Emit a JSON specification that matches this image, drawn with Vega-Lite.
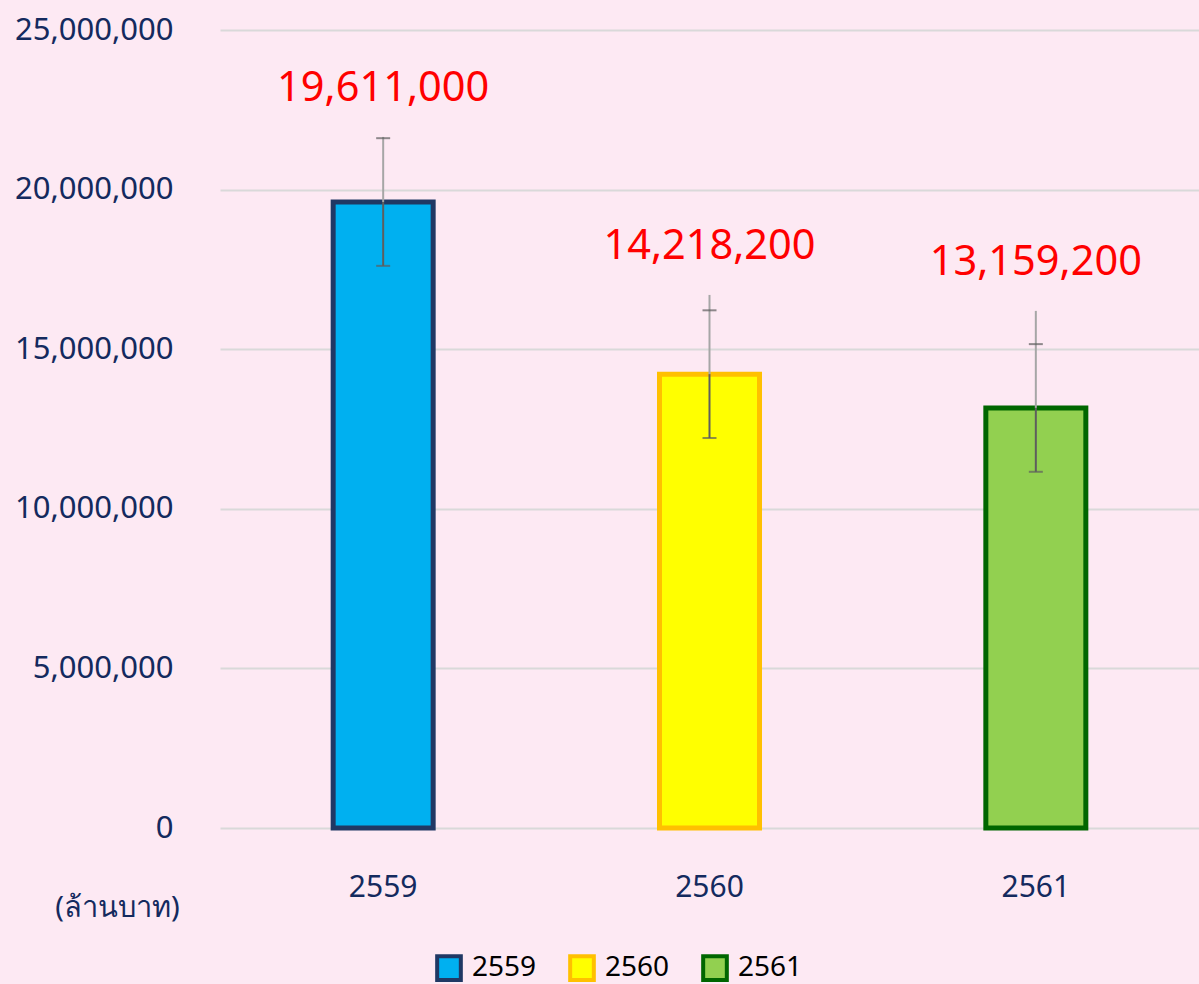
{
  "$schema": "https://vega.github.io/schema/vega-lite/v6.json",
  "width": 979,
  "height": 798,
  "autosize": {"type": "none"},
  "padding": {"left": 220, "top": 30, "right": 0, "bottom": 156},
  "background": "#FDE9F3",
  "config": {
    "view": {"stroke": null},
    "font": "Noto Sans",
    "axis": {"labelFont": "Noto Sans", "titleFont": "Noto Sans"}
  },
  "data": {
    "values": [
      {"year": "2559", "value": 19611000, "low": 17611000, "high": 21611000, "top": 21650000},
      {"year": "2560", "value": 14218200, "low": 12218200, "high": 16218200, "top": 16700000},
      {"year": "2561", "value": 13159200, "low": 11159200, "high": 15159200, "top": 16200000}
    ]
  },
  "encoding": {
    "x": {
      "field": "year", "type": "nominal",
      "scale": {"paddingInner": 0.68, "paddingOuter": 0.34},
      "axis": {"title": null, "labelAngle": 0, "domain": false, "ticks": false, "labelFontSize": 30, "labelColor": "#142A5E", "labelPadding": 44, "grid": false}
    }
  },
  "layer": [
    {
      "mark": {"type": "bar", "strokeWidth": 5, "width": 100},
      "encoding": {
        "y": {
          "field": "value", "type": "quantitative",
          "scale": {"domain": [0, 25000000], "nice": false},
          "axis": {
            "values": [0, 5000000, 10000000, 15000000, 20000000, 25000000],
            "format": ",d",
            "domain": false, "ticks": false,
            "labelFontSize": 31, "labelColor": "#142A5E", "labelPadding": 47,
            "gridColor": "#D9D9D9", "gridWidth": 2,
            "title": "(ล้านบาท)", "titleAngle": 0, "titleX": -103, "titleY": 877,
            "titleAlign": "center", "titleBaseline": "middle", "titleFontSize": 29,
            "titleFontWeight": "normal", "titleColor": "#142A5E"
          }
        },
        "fill": {
          "field": "year", "type": "nominal",
          "scale": {"domain": ["2559", "2560", "2561"], "range": ["#00B0F0", "#FFFF00", "#92D050"]},
          "legend": {
            "title": null, "orient": "none", "direction": "horizontal",
            "legendX": 215, "legendY": 924,
            "symbolType": "square", "symbolSize": 560, "symbolStrokeWidth": 4,
            "labelFontSize": 28, "labelColor": "#000000", "columnPadding": 25, "labelOffset": 9
          }
        },
        "stroke": {
          "field": "year", "type": "nominal",
          "scale": {"domain": ["2559", "2560", "2561"], "range": ["#203864", "#FFC000", "#006600"]},
          "legend": null
        }
      }
    },
    {
      "mark": {"type": "rule", "color": "#A6A6A6", "strokeWidth": 2},
      "encoding": {"y": {"field": "value", "type": "quantitative"}, "y2": {"field": "top"}}
    },
    {
      "mark": {"type": "rule", "color": "#5E5E5E", "strokeWidth": 2},
      "encoding": {"y": {"field": "low", "type": "quantitative"}, "y2": {"field": "value"}}
    },
    {
      "mark": {"type": "tick", "color": "#5E5E5E", "thickness": 2, "size": 14},
      "encoding": {"y": {"field": "low", "type": "quantitative"}}
    },
    {
      "mark": {"type": "tick", "color": "#5E5E5E", "thickness": 2, "size": 14},
      "encoding": {"y": {"field": "high", "type": "quantitative"}}
    },
    {
      "mark": {"type": "text", "color": "#FF0000", "fontSize": 41.5, "baseline": "middle", "dy": -48},
      "encoding": {
        "y": {"field": "top", "type": "quantitative"},
        "text": {"field": "value", "type": "quantitative", "format": ",d"}
      }
    }
  ]
}
